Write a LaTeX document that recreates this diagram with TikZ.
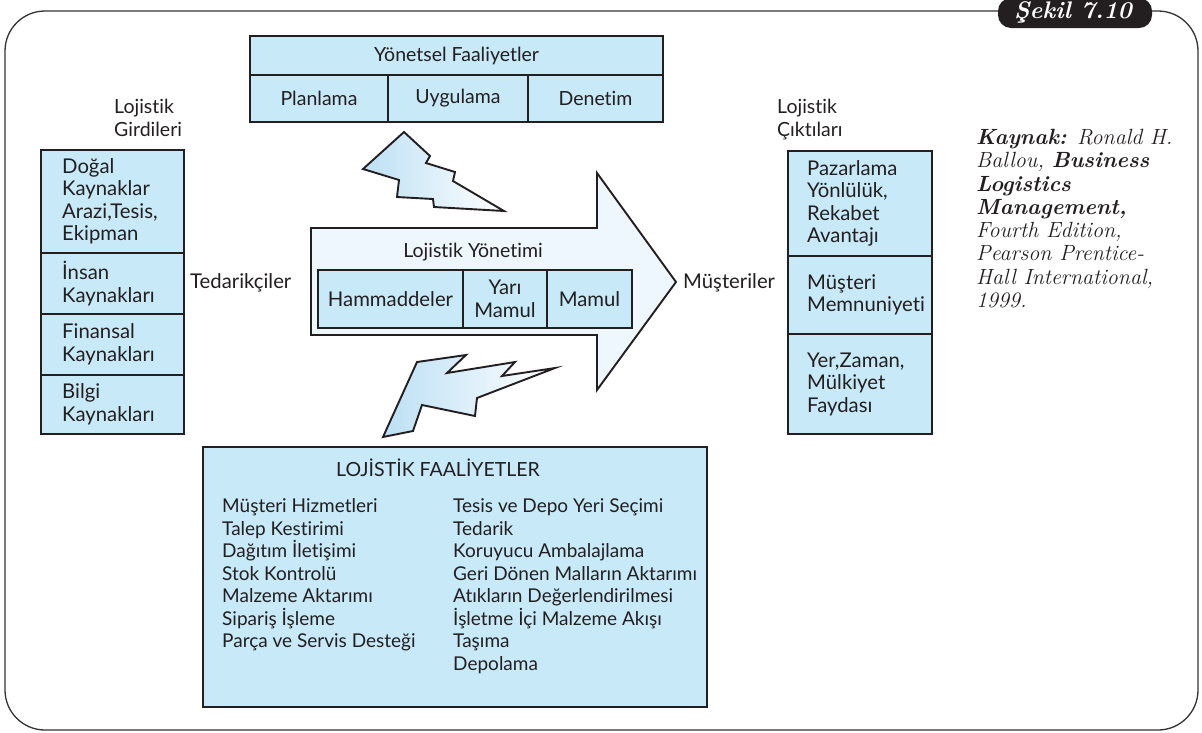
\documentclass[tikz,border=0pt]{standalone}
\usepackage{fontspec}
\newfontfamily\gillfont[Ligatures=NoCommon]{Lato}
\usetikzlibrary{shadings}
\definecolor{ink}{HTML}{231F20}
\definecolor{boxblue}{HTML}{C7E9F8}
\definecolor{arrowblue}{HTML}{EEF7FD}
\definecolor{boltblue}{HTML}{BCE0F4}
\definecolor{framegray}{HTML}{333333}
\begin{document}
\begin{tikzpicture}[x=1pt,y=-1pt,
  cell/.style={draw=ink, line width=2.6pt, fill=boxblue, inner sep=0pt},
  txt/.style={inner sep=0pt, text=ink, align=left,
    font=\gillfont\fontsize{20.3}{22.5}\selectfont},
  headtxt/.style={txt, font=\gillfont\fontsize{19.5}{22.5}\selectfont},
  listtxt/.style={txt, font=\gillfont\fontsize{19}{22.5}\selectfont},
  boltshape/.style={draw=ink, line width=1.9pt, line join=miter,
    left color=boltblue, right color=white},
  cite/.style={inner sep=0pt, text=ink, align=left,
    font=\itshape\fontsize{22}{23.3}\selectfont}]
\useasboundingbox (0,0) rectangle (1202,732);

% outer frame and figure tab
\draw[framegray, line width=1.3pt, rounded corners=40pt]
  (700,11) -- (5,11) -- (5,730) -- (1198,730) -- (1198,11) -- (700,11);
\fill[ink, rounded corners=13pt] (998,-2) rectangle (1152,28);
\node[inner sep=0pt, text=white, font=\bfseries\itshape\fontsize{24}{26}\selectfont]
  (tab) at (1073,12.5) {Şekil 7.10};

% managerial activities
\node[cell, minimum width=413pt, minimum height=39pt] (mgmt) at (456.5,55.5) {};
\node[cell, minimum width=138pt, minimum height=47pt] (plan) at (319,98.5) {};
\node[cell, minimum width=140pt, minimum height=47pt] (uyg) at (458,98.5) {};
\node[cell, minimum width=135pt, minimum height=47pt] (den) at (595.5,98.5) {};
\node[headtxt] (mgmtt) at (456.5,55.5) {Yönetsel Faaliyetler};
\node[headtxt] (plant) at (319,98.5) {Planlama};
\node[headtxt] (uygt) at (458,98.5) {Uygulama};
\node[headtxt] (dent) at (595.5,98.5) {Denetim};

% logistics inputs
\node[headtxt, anchor=north west] (inlabel) at (114,99) {Lojistik\\Girdileri};
\node[cell, minimum width=143pt, minimum height=103pt] (in1) at (112.5,201.5) {};
\node[cell, minimum width=143pt, minimum height=61pt] (in2) at (112.5,283.5) {};
\node[cell, minimum width=143pt, minimum height=61pt] (in3) at (112.5,344.5) {};
\node[cell, minimum width=143pt, minimum height=59pt] (in4) at (112.5,404.5) {};
\node[txt, anchor=west] (in1t) at (62,201.5) {Doğal\\Kaynaklar\\Arazi,Tesis,\\Ekipman};
\node[txt, anchor=west] (in2t) at (62,283.5) {İnsan\\Kaynakları};
\node[txt, anchor=west] (in3t) at (62,344.5) {Finansal\\Kaynakları};
\node[txt, anchor=west] (in4t) at (62,404.5) {Bilgi\\Kaynakları};

% logistics outputs
\node[headtxt, anchor=north west] (outlabel) at (777,99) {Lojistik\\Çıktıları};
\node[cell, minimum width=144pt, minimum height=105pt] (out1) at (860,203.5) {};
\node[cell, minimum width=144pt, minimum height=78pt] (out2) at (860,295) {};
\node[cell, minimum width=144pt, minimum height=100pt] (out3) at (860,384) {};
\node[txt, anchor=west] (out1t) at (807,203.5) {Pazarlama\\Yönlülük,\\Rekabet\\Avantajı};
\node[txt, anchor=west] (out2t) at (807,295) {Müşteri\\Memnuniyeti};
\node[txt, anchor=west] (out3t) at (807,384) {Yer,Zaman,\\Mülkiyet\\Faydası};

% suppliers / customers
\node[txt, anchor=base west] (supp) at (190,288) {Tedarikçiler};
\node[txt, anchor=base west] (cust) at (683,288) {Müşteriler};

% central arrow
\draw[ink, line width=1.9pt, fill=arrowblue, line join=miter]
  (311,228) -- (597,228) -- (597,173) -- (676,282) -- (597,390) -- (597,335) -- (311,335) -- cycle;
\node[headtxt] (lmgmt) at (473,252) {Lojistik Yönetimi};
\node[cell, minimum width=145pt, minimum height=58pt] (ham) at (390.5,299) {};
\node[cell, minimum width=84pt, minimum height=58pt] (yari) at (505,299) {};
\node[cell, minimum width=85pt, minimum height=58pt] (mamul) at (589.5,299) {};
\node[txt] (hamt) at (390.5,299) {Hammaddeler};
\node[txt, align=center] (yarit) at (505,299) {Yarı\\Mamul};
\node[txt] (mamult) at (589.5,299) {Mamul};

% lightning bolts
\draw[boltshape] (404,132) -- (430,156) -- (426,163) -- (455,172) -- (453,181) -- (504,211)
  -- (434,207) -- (433,199) -- (397,197) -- (399,180) -- (363,169) -- cycle;
\draw[boltshape] (417,362) -- (466,355) -- (447,373) -- (515,362) -- (502,376) -- (555,368)
  -- (477,398) -- (475,416) -- (422,405) -- (413,431) -- (383,437) -- cycle;

% logistics activities
\node[cell, minimum width=504pt, minimum height=260pt] (act) at (455,577) {};
\node[headtxt] (acttitle) at (438,468) {LOJİSTİK FAALİYETLER};
\node[listtxt, anchor=north west] (actleft) at (222,498.5)
  {Müşteri Hizmetleri\\Talep Kestirimi\\Dağıtım İletişimi\\Stok Kontrolü\\Malzeme Aktarımı\\Sipariş İşleme\\Parça ve Servis Desteği};
\node[listtxt, anchor=north west] (actright) at (453,498.5)
  {Tesis ve Depo Yeri Seçimi\\Tedarik\\Koruyucu Ambalajlama\\Geri Dönen Malların Aktarımı\\Atıkların Değerlendirilmesi\\İşletme İçi Malzeme Akışı\\Taşıma\\Depolama};

% source note
\node[cite, anchor=north west] (source) at (976,129)
  {\textbf{Kaynak:} Ronald H.\\Ballou, \textbf{Business}\\\textbf{Logistics}\\\textbf{Management,}\\Fourth Edition,\\Pearson Prentice-\\Hall International,\\1999.};
\end{tikzpicture}
\end{document}
